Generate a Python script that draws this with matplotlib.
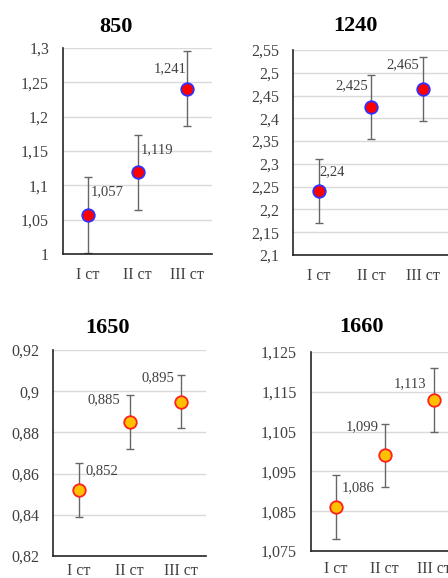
import numpy as np
import matplotlib
matplotlib.use("Agg")
import matplotlib.pyplot as plt
from matplotlib.ticker import FuncFormatter

plt.rcParams['font.family'] = ['Liberation Serif', 'DejaVu Serif']

# ---------------------------------------------------------
# Data
# ---------------------------------------------------------
stages = ['I ст', 'II ст', 'III ст']
titles = ['850', '1240', '1650', '1660']

vals_850 = [1.057, 1.119, 1.241]
err_850 = [0.055, 0.055, 0.054]
vals_1240 = [2.24, 2.425, 2.465]
err_1240 = [0.07, 0.07, 0.07]
vals_1650 = [0.852, 0.885, 0.895]
err_1650 = [0.013, 0.013, 0.013]
vals_1660 = [1.086, 1.099, 1.113]
err_1660 = [0.008, 0.008, 0.008]

ylims = [(1.0, 1.3), (2.1, 2.55), (0.82, 0.92), (1.075, 1.125)]
ysteps = [0.05, 0.05, 0.02, 0.01]

# ---------------------------------------------------------
# Layout (pixel boxes: left, right, top, bottom) and styles
# ---------------------------------------------------------
W, H = 448, 578
boxes = [(63, 212, 48, 254), (293, 449, 50, 255),
         (53, 206, 350, 556), (311, 458, 352, 551)]
title_pos = [(116, 27), (355, 26), (107, 328), (361, 327)]
xpads = [9, 9, 5, 7]
face = ['#ff0000', '#ff0000', '#ffc000', '#ffc000']
edge = ['#3030ff', '#3030ff', '#ff2020', '#ff2020']
# label shift in px: x (>=0 -> text to the right of point, <0 -> to the left), rise
lab_dx = [[3, 3, -1], [0, -3, -4], [7, -9, -6], [6, -6, -7]]
lab_rise = [[23, 23, 20], [20, 21, 24], [19, 22, 24], [20, 29, 16]]

series = [(vals_850, err_850), (vals_1240, err_1240),
          (vals_1650, err_1650), (vals_1660, err_1660)]


def comma_fmt(v, pos):
    return ('%g' % round(v, 4)).replace('.', ',')


fig = plt.figure(figsize=(W / 100, H / 100), dpi=100)

for i, (vals, errs) in enumerate(series):
    l, r, t, b = boxes[i]
    ax = fig.add_axes([l / W, 1 - b / H, (r - l) / W, (b - t) / H])
    x = np.arange(len(stages))

    ax.errorbar(x, vals, yerr=errs, fmt='none', ecolor='#666666',
                elinewidth=1, capsize=3, capthick=1, zorder=2)
    ax.plot(x, vals, 'o', ms=9, mfc=face[i], mec=edge[i], mew=1.3,
            ls='none', zorder=3)

    for j, v in enumerate(vals):
        dx = lab_dx[i][j]
        ax.annotate(comma_fmt(v, None), (x[j], v),
                    xytext=(dx * 0.72, lab_rise[i][j] * 0.72),
                    textcoords='offset points',
                    ha='left' if dx >= 0 else 'right', va='center',
                    fontsize=10.5, color='#404040', zorder=4)

    lo, hi = ylims[i]
    ax.set_xlim(-0.5, len(stages) - 0.5)
    ax.set_ylim(lo, hi)
    ax.set_yticks(np.arange(lo, hi + ysteps[i] / 2, ysteps[i]))
    ax.yaxis.set_major_formatter(FuncFormatter(comma_fmt))
    ax.set_xticks(x)
    ax.set_xticklabels(stages)
    ax.tick_params(axis='both', length=0, labelsize=11.5, colors='#404040')
    ax.tick_params(axis='y', pad=10)
    ax.tick_params(axis='x', pad=xpads[i])
    ax.grid(axis='y', color='#d9d9d9', lw=1)
    ax.set_axisbelow(True)
    for s in ['top', 'right']:
        ax.spines[s].set_visible(False)
    for s in ['left', 'bottom']:
        ax.spines[s].set_color('#262626')
        ax.spines[s].set_linewidth(1.2)

    tx, ty = title_pos[i]
    fig.text(tx / W, 1 - ty / H, titles[i], ha='center', va='center',
             fontsize=16, fontweight='bold', color='black')

fig.savefig('out.png', dpi=100)
